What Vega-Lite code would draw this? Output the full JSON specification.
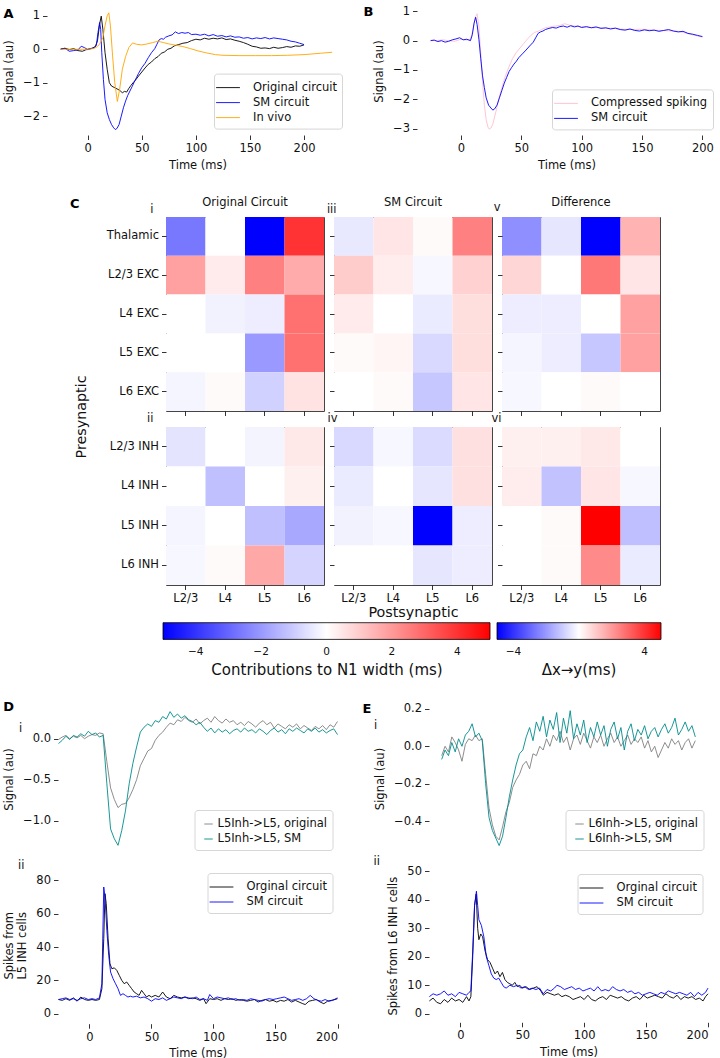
{
  "$schema": "https://vega.github.io/schema/vega-lite/v6.json",
  "padding": {"left": 2, "top": 1, "right": 0, "bottom": 0},
  "config": {
    "font": "DejaVu Sans",
    "view": {"stroke": null},
    "axis": {"domain": false, "grid": false, "tickColor": "#000", "tickSize": 4.5, "tickWidth": 0.8, "labelFontSize": 11.5, "labelColor": "#111", "labelPadding": 3, "titleFontSize": 11.5, "titleFontWeight": "normal", "titleColor": "#111", "labelFont": "DejaVu Sans", "titleFont": "DejaVu Sans"},
    "legend": {"labelFont": "DejaVu Sans", "labelFontSize": 11.5, "labelColor": "#111", "symbolType": "M-1.4,0L1.4,0", "symbolSize": 289, "symbolStrokeWidth": 1.2, "labelOffset": 16, "rowPadding": 0, "padding": 5, "strokeColor": "#d6d6d6", "fillColor": "#ffffff", "cornerRadius": 3, "titleFont": "DejaVu Sans"},
    "title": {"fontSize": 11.5, "fontWeight": "normal", "color": "#111", "font": "DejaVu Sans"},
    "line": {"strokeWidth": 0.9}
  },
  "datasets": {
    "a": [
      {"t":-25,"v":0.01,"s":"o"},{"t":-21,"v":0.03,"s":"o"},{"t":-17,"v":-0.01,"s":"o"},{"t":-13,"v":0.02,"s":"o"},{"t":-9,"v":-0.04,"s":"o"},{"t":-5,"v":-0.06,"s":"o"},{"t":-2,"v":-0.02,"s":"o"},{"t":1,"v":0.01,"s":"o"},{"t":4,"v":0.03,"s":"o"},{"t":7,"v":0.08,"s":"o"},{"t":9,"v":0.25,"s":"o"},{"t":11,"v":0.75,"s":"o"},{"t":12.5,"v":0.99,"s":"o"},{"t":14,"v":0.6,"s":"o"},{"t":16,"v":-0.1,"s":"o"},{"t":18,"v":-0.6,"s":"o"},{"t":20,"v":-1.0,"s":"o"},{"t":22,"v":-1.1,"s":"o"},{"t":25,"v":-1.15,"s":"o"},{"t":28,"v":-1.2,"s":"o"},{"t":30,"v":-1.24,"s":"o"},{"t":32,"v":-1.3,"s":"o"},{"t":34,"v":-1.26,"s":"o"},{"t":36,"v":-1.28,"s":"o"},{"t":38,"v":-1.17,"s":"o"},{"t":40,"v":-1.08,"s":"o"},{"t":42,"v":-1.0,"s":"o"},{"t":44,"v":-0.93,"s":"o"},{"t":47,"v":-0.8,"s":"o"},{"t":50,"v":-0.68,"s":"o"},{"t":53,"v":-0.56,"s":"o"},{"t":56,"v":-0.45,"s":"o"},{"t":59,"v":-0.38,"s":"o"},{"t":62,"v":-0.28,"s":"o"},{"t":65,"v":-0.22,"s":"o"},{"t":68,"v":-0.12,"s":"o"},{"t":71,"v":-0.08,"s":"o"},{"t":74,"v":0.0,"s":"o"},{"t":77,"v":0.03,"s":"o"},{"t":80,"v":0.1,"s":"o"},{"t":84,"v":0.14,"s":"o"},{"t":88,"v":0.18,"s":"o"},{"t":92,"v":0.2,"s":"o"},{"t":96,"v":0.26,"s":"o"},{"t":100,"v":0.3,"s":"o"},{"t":104,"v":0.28,"s":"o"},{"t":108,"v":0.33,"s":"o"},{"t":112,"v":0.3,"s":"o"},{"t":116,"v":0.33,"s":"o"},{"t":120,"v":0.31,"s":"o"},{"t":124,"v":0.34,"s":"o"},{"t":128,"v":0.29,"s":"o"},{"t":132,"v":0.31,"s":"o"},{"t":136,"v":0.27,"s":"o"},{"t":140,"v":0.24,"s":"o"},{"t":144,"v":0.2,"s":"o"},{"t":148,"v":0.15,"s":"o"},{"t":152,"v":0.09,"s":"o"},{"t":156,"v":0.07,"s":"o"},{"t":160,"v":0.03,"s":"o"},{"t":164,"v":0.04,"s":"o"},{"t":168,"v":0.02,"s":"o"},{"t":172,"v":0.06,"s":"o"},{"t":176,"v":0.03,"s":"o"},{"t":180,"v":0.05,"s":"o"},{"t":184,"v":0.08,"s":"o"},{"t":188,"v":0.06,"s":"o"},{"t":192,"v":0.1,"s":"o"},{"t":196,"v":0.09,"s":"o"},{"t":200,"v":0.13,"s":"o"},
      {"t":-25,"v":0.0,"s":"s"},{"t":-21,"v":0.03,"s":"s"},{"t":-17,"v":-0.06,"s":"s"},{"t":-13,"v":-0.04,"s":"s"},{"t":-9,"v":-0.02,"s":"s"},{"t":-6,"v":0.09,"s":"s"},{"t":-3,"v":0.05,"s":"s"},{"t":0,"v":-0.01,"s":"s"},{"t":3,"v":0.02,"s":"s"},{"t":6,"v":0.04,"s":"s"},{"t":8,"v":0.12,"s":"s"},{"t":9.5,"v":0.5,"s":"s"},{"t":11,"v":0.8,"s":"s"},{"t":12,"v":0.6,"s":"s"},{"t":13,"v":-0.1,"s":"s"},{"t":14.5,"v":-0.9,"s":"s"},{"t":16,"v":-1.5,"s":"s"},{"t":18,"v":-1.9,"s":"s"},{"t":20,"v":-2.1,"s":"s"},{"t":22,"v":-2.25,"s":"s"},{"t":24,"v":-2.35,"s":"s"},{"t":25.5,"v":-2.4,"s":"s"},{"t":27,"v":-2.37,"s":"s"},{"t":29,"v":-2.25,"s":"s"},{"t":31,"v":-2.0,"s":"s"},{"t":33,"v":-1.75,"s":"s"},{"t":35,"v":-1.55,"s":"s"},{"t":37,"v":-1.38,"s":"s"},{"t":39,"v":-1.25,"s":"s"},{"t":41,"v":-1.12,"s":"s"},{"t":43,"v":-0.98,"s":"s"},{"t":45,"v":-0.85,"s":"s"},{"t":47,"v":-0.72,"s":"s"},{"t":50,"v":-0.55,"s":"s"},{"t":53,"v":-0.42,"s":"s"},{"t":56,"v":-0.25,"s":"s"},{"t":59,"v":-0.1,"s":"s"},{"t":62,"v":0.02,"s":"s"},{"t":64,"v":0.15,"s":"s"},{"t":66,"v":0.28,"s":"s"},{"t":68,"v":0.32,"s":"s"},{"t":70,"v":0.3,"s":"s"},{"t":72,"v":0.36,"s":"s"},{"t":75,"v":0.4,"s":"s"},{"t":78,"v":0.43,"s":"s"},{"t":81,"v":0.52,"s":"s"},{"t":84,"v":0.47,"s":"s"},{"t":87,"v":0.5,"s":"s"},{"t":90,"v":0.48,"s":"s"},{"t":93,"v":0.5,"s":"s"},{"t":96,"v":0.44,"s":"s"},{"t":100,"v":0.45,"s":"s"},{"t":104,"v":0.42,"s":"s"},{"t":108,"v":0.45,"s":"s"},{"t":112,"v":0.4,"s":"s"},{"t":116,"v":0.44,"s":"s"},{"t":120,"v":0.39,"s":"s"},{"t":124,"v":0.41,"s":"s"},{"t":128,"v":0.37,"s":"s"},{"t":132,"v":0.4,"s":"s"},{"t":136,"v":0.36,"s":"s"},{"t":140,"v":0.37,"s":"s"},{"t":144,"v":0.33,"s":"s"},{"t":148,"v":0.35,"s":"s"},{"t":152,"v":0.31,"s":"s"},{"t":156,"v":0.34,"s":"s"},{"t":160,"v":0.32,"s":"s"},{"t":164,"v":0.35,"s":"s"},{"t":168,"v":0.31,"s":"s"},{"t":172,"v":0.34,"s":"s"},{"t":176,"v":0.32,"s":"s"},{"t":180,"v":0.3,"s":"s"},{"t":184,"v":0.28,"s":"s"},{"t":188,"v":0.24,"s":"s"},{"t":192,"v":0.22,"s":"s"},{"t":196,"v":0.18,"s":"s"},{"t":200,"v":0.14,"s":"s"},
      {"t":-25,"v":0.0,"s":"v"},{"t":-15,"v":0.0,"s":"v"},{"t":-5,"v":0.0,"s":"v"},{"t":0,"v":0.0,"s":"v"},{"t":5,"v":0.02,"s":"v"},{"t":8,"v":0.06,"s":"v"},{"t":11,"v":0.15,"s":"v"},{"t":14,"v":0.35,"s":"v"},{"t":16,"v":0.7,"s":"v"},{"t":18,"v":1.0,"s":"v"},{"t":19.5,"v":1.09,"s":"v"},{"t":21,"v":0.7,"s":"v"},{"t":23,"v":-0.2,"s":"v"},{"t":25,"v":-1.0,"s":"v"},{"t":27.4,"v":-1.56,"s":"v"},{"t":29.5,"v":-1.2,"s":"v"},{"t":32,"v":-0.6,"s":"v"},{"t":35,"v":-0.22,"s":"v"},{"t":38,"v":0.05,"s":"v"},{"t":41.5,"v":0.19,"s":"v"},{"t":45,"v":0.15,"s":"v"},{"t":50,"v":0.13,"s":"v"},{"t":55,"v":0.16,"s":"v"},{"t":60,"v":0.2,"s":"v"},{"t":65,"v":0.24,"s":"v"},{"t":70,"v":0.2,"s":"v"},{"t":75,"v":0.16,"s":"v"},{"t":80,"v":0.13,"s":"v"},{"t":88,"v":0.08,"s":"v"},{"t":95,"v":0.02,"s":"v"},{"t":102,"v":-0.05,"s":"v"},{"t":110,"v":-0.11,"s":"v"},{"t":118,"v":-0.16,"s":"v"},{"t":125,"v":-0.18,"s":"v"},{"t":140,"v":-0.19,"s":"v"},{"t":155,"v":-0.19,"s":"v"},{"t":170,"v":-0.19,"s":"v"},{"t":185,"v":-0.18,"s":"v"},{"t":200,"v":-0.16,"s":"v"},{"t":215,"v":-0.12,"s":"v"},{"t":226,"v":-0.09,"s":"v"}
    ],
    "b": [
      {"t":-25,"v":0.02,"s":"c"},{"t":-20,"v":0.0,"s":"c"},{"t":-15,"v":0.03,"s":"c"},{"t":-10,"v":0.0,"s":"c"},{"t":-5,"v":-0.02,"s":"c"},{"t":0,"v":0.05,"s":"c"},{"t":5,"v":0.02,"s":"c"},{"t":8,"v":0.05,"s":"c"},{"t":10,"v":0.35,"s":"c"},{"t":12,"v":0.8,"s":"c"},{"t":13.5,"v":0.92,"s":"c"},{"t":15,"v":0.5,"s":"c"},{"t":16.5,"v":-0.4,"s":"c"},{"t":18,"v":-1.4,"s":"c"},{"t":19.5,"v":-2.2,"s":"c"},{"t":21,"v":-2.7,"s":"c"},{"t":22.5,"v":-2.95,"s":"c"},{"t":23.5,"v":-3.02,"s":"c"},{"t":25,"v":-2.98,"s":"c"},{"t":26.5,"v":-2.85,"s":"c"},{"t":28,"v":-2.6,"s":"c"},{"t":29.5,"v":-2.35,"s":"c"},{"t":31,"v":-2.05,"s":"c"},{"t":33,"v":-1.75,"s":"c"},{"t":35,"v":-1.45,"s":"c"},{"t":37,"v":-1.2,"s":"c"},{"t":39,"v":-0.98,"s":"c"},{"t":41,"v":-0.78,"s":"c"},{"t":43,"v":-0.6,"s":"c"},{"t":46,"v":-0.4,"s":"c"},{"t":49,"v":-0.25,"s":"c"},{"t":52,"v":-0.1,"s":"c"},{"t":55,"v":0.05,"s":"c"},{"t":58,"v":0.18,"s":"c"},{"t":61,"v":0.28,"s":"c"},{"t":64,"v":0.32,"s":"c"},{"t":67,"v":0.38,"s":"c"},{"t":70,"v":0.44,"s":"c"},{"t":74,"v":0.47,"s":"c"},{"t":78,"v":0.5,"s":"c"},{"t":82,"v":0.52,"s":"c"},{"t":86,"v":0.58,"s":"c"},{"t":90,"v":0.53,"s":"c"},{"t":95,"v":0.5,"s":"c"},{"t":100,"v":0.48,"s":"c"},{"t":105,"v":0.46,"s":"c"},{"t":110,"v":0.44,"s":"c"},{"t":115,"v":0.45,"s":"c"},{"t":120,"v":0.41,"s":"c"},{"t":125,"v":0.43,"s":"c"},{"t":130,"v":0.4,"s":"c"},{"t":140,"v":0.38,"s":"c"},{"t":150,"v":0.39,"s":"c"},{"t":160,"v":0.36,"s":"c"},{"t":170,"v":0.34,"s":"c"},{"t":180,"v":0.32,"s":"c"},{"t":190,"v":0.22,"s":"c"},{"t":200,"v":0.12,"s":"c"},
      {"t":-25,"v":0.0,"s":"s"},{"t":-22,"v":0.02,"s":"s"},{"t":-19,"v":-0.03,"s":"s"},{"t":-16,"v":0.0,"s":"s"},{"t":-13,"v":-0.05,"s":"s"},{"t":-10,"v":-0.02,"s":"s"},{"t":-7,"v":0.03,"s":"s"},{"t":-4,"v":0.06,"s":"s"},{"t":-1,"v":0.1,"s":"s"},{"t":2,"v":0.03,"s":"s"},{"t":5,"v":0.05,"s":"s"},{"t":8,"v":0.0,"s":"s"},{"t":9.5,"v":0.2,"s":"s"},{"t":11,"v":0.6,"s":"s"},{"t":12.3,"v":0.8,"s":"s"},{"t":13.5,"v":0.55,"s":"s"},{"t":15,"v":0.05,"s":"s"},{"t":16.5,"v":-0.6,"s":"s"},{"t":18,"v":-1.2,"s":"s"},{"t":19.5,"v":-1.6,"s":"s"},{"t":21,"v":-1.95,"s":"s"},{"t":23,"v":-2.2,"s":"s"},{"t":25,"v":-2.3,"s":"s"},{"t":26.5,"v":-2.37,"s":"s"},{"t":28,"v":-2.33,"s":"s"},{"t":30,"v":-2.2,"s":"s"},{"t":32,"v":-1.95,"s":"s"},{"t":34,"v":-1.7,"s":"s"},{"t":36,"v":-1.45,"s":"s"},{"t":38,"v":-1.25,"s":"s"},{"t":40,"v":-1.05,"s":"s"},{"t":42,"v":-0.92,"s":"s"},{"t":44,"v":-0.8,"s":"s"},{"t":46,"v":-0.7,"s":"s"},{"t":48,"v":-0.58,"s":"s"},{"t":51,"v":-0.45,"s":"s"},{"t":54,"v":-0.32,"s":"s"},{"t":57,"v":-0.18,"s":"s"},{"t":60,"v":-0.05,"s":"s"},{"t":62,"v":0.1,"s":"s"},{"t":64,"v":0.25,"s":"s"},{"t":66,"v":0.3,"s":"s"},{"t":68,"v":0.33,"s":"s"},{"t":70,"v":0.38,"s":"s"},{"t":73,"v":0.42,"s":"s"},{"t":76,"v":0.45,"s":"s"},{"t":79,"v":0.43,"s":"s"},{"t":82,"v":0.48,"s":"s"},{"t":85,"v":0.5,"s":"s"},{"t":88,"v":0.46,"s":"s"},{"t":91,"v":0.51,"s":"s"},{"t":94,"v":0.47,"s":"s"},{"t":97,"v":0.5,"s":"s"},{"t":100,"v":0.45,"s":"s"},{"t":104,"v":0.48,"s":"s"},{"t":108,"v":0.44,"s":"s"},{"t":112,"v":0.47,"s":"s"},{"t":116,"v":0.42,"s":"s"},{"t":120,"v":0.44,"s":"s"},{"t":124,"v":0.4,"s":"s"},{"t":128,"v":0.43,"s":"s"},{"t":132,"v":0.38,"s":"s"},{"t":136,"v":0.36,"s":"s"},{"t":140,"v":0.4,"s":"s"},{"t":144,"v":0.35,"s":"s"},{"t":148,"v":0.33,"s":"s"},{"t":152,"v":0.37,"s":"s"},{"t":156,"v":0.34,"s":"s"},{"t":160,"v":0.36,"s":"s"},{"t":164,"v":0.32,"s":"s"},{"t":168,"v":0.35,"s":"s"},{"t":172,"v":0.38,"s":"s"},{"t":176,"v":0.33,"s":"s"},{"t":180,"v":0.3,"s":"s"},{"t":184,"v":0.32,"s":"s"},{"t":188,"v":0.25,"s":"s"},{"t":192,"v":0.22,"s":"s"},{"t":196,"v":0.18,"s":"s"},{"t":200,"v":0.14,"s":"s"}
    ],
    "hm": [
      {"p":"i","a":"Thalamic","b":"L2/3","v":-2.65},{"p":"i","a":"Thalamic","b":"L4","v":0},{"p":"i","a":"Thalamic","b":"L5","v":-5},{"p":"i","a":"Thalamic","b":"L6","v":4.0},
      {"p":"i","a":"L2/3 EXC","b":"L2/3","v":1.85},{"p":"i","a":"L2/3 EXC","b":"L4","v":0.4},{"p":"i","a":"L2/3 EXC","b":"L5","v":2.5},{"p":"i","a":"L2/3 EXC","b":"L6","v":1.65},
      {"p":"i","a":"L4 EXC","b":"L2/3","v":0},{"p":"i","a":"L4 EXC","b":"L4","v":-0.25},{"p":"i","a":"L4 EXC","b":"L5","v":-0.35},{"p":"i","a":"L4 EXC","b":"L6","v":2.8},
      {"p":"i","a":"L5 EXC","b":"L2/3","v":0},{"p":"i","a":"L5 EXC","b":"L4","v":0},{"p":"i","a":"L5 EXC","b":"L5","v":-2.0},{"p":"i","a":"L5 EXC","b":"L6","v":2.8},
      {"p":"i","a":"L6 EXC","b":"L2/3","v":-0.2},{"p":"i","a":"L6 EXC","b":"L4","v":0.1},{"p":"i","a":"L6 EXC","b":"L5","v":-0.9},{"p":"i","a":"L6 EXC","b":"L6","v":0.55},
      {"p":"ii","a":"L2/3 INH","b":"L2/3","v":-0.53},{"p":"ii","a":"L2/3 INH","b":"L4","v":0},{"p":"ii","a":"L2/3 INH","b":"L5","v":-0.22},{"p":"ii","a":"L2/3 INH","b":"L6","v":0.45},
      {"p":"ii","a":"L4 INH","b":"L2/3","v":0},{"p":"ii","a":"L4 INH","b":"L4","v":-1.24},{"p":"ii","a":"L4 INH","b":"L5","v":0},{"p":"ii","a":"L4 INH","b":"L6","v":0.3},
      {"p":"ii","a":"L5 INH","b":"L2/3","v":-0.2},{"p":"ii","a":"L5 INH","b":"L4","v":0},{"p":"ii","a":"L5 INH","b":"L5","v":-1.24},{"p":"ii","a":"L5 INH","b":"L6","v":-1.7},
      {"p":"ii","a":"L6 INH","b":"L2/3","v":-0.15},{"p":"ii","a":"L6 INH","b":"L4","v":0.1},{"p":"ii","a":"L6 INH","b":"L5","v":1.7},{"p":"ii","a":"L6 INH","b":"L6","v":-0.84},
      {"p":"iii","a":"Thalamic","b":"L2/3","v":-0.45},{"p":"iii","a":"Thalamic","b":"L4","v":0.5},{"p":"iii","a":"Thalamic","b":"L5","v":0.1},{"p":"iii","a":"Thalamic","b":"L6","v":2.5},
      {"p":"iii","a":"L2/3 EXC","b":"L2/3","v":1.0},{"p":"iii","a":"L2/3 EXC","b":"L4","v":0.35},{"p":"iii","a":"L2/3 EXC","b":"L5","v":-0.15},{"p":"iii","a":"L2/3 EXC","b":"L6","v":0.9},
      {"p":"iii","a":"L4 EXC","b":"L2/3","v":0.4},{"p":"iii","a":"L4 EXC","b":"L4","v":0},{"p":"iii","a":"L4 EXC","b":"L5","v":-0.4},{"p":"iii","a":"L4 EXC","b":"L6","v":0.65},
      {"p":"iii","a":"L5 EXC","b":"L2/3","v":0.1},{"p":"iii","a":"L5 EXC","b":"L4","v":0.2},{"p":"iii","a":"L5 EXC","b":"L5","v":-0.75},{"p":"iii","a":"L5 EXC","b":"L6","v":0.65},
      {"p":"iii","a":"L6 EXC","b":"L2/3","v":0},{"p":"iii","a":"L6 EXC","b":"L4","v":0.1},{"p":"iii","a":"L6 EXC","b":"L5","v":-1.1},{"p":"iii","a":"L6 EXC","b":"L6","v":0.5},
      {"p":"iv","a":"L2/3 INH","b":"L2/3","v":-0.75},{"p":"iv","a":"L2/3 INH","b":"L4","v":-0.15},{"p":"iv","a":"L2/3 INH","b":"L5","v":-0.7},{"p":"iv","a":"L2/3 INH","b":"L6","v":0.6},
      {"p":"iv","a":"L4 INH","b":"L2/3","v":-0.4},{"p":"iv","a":"L4 INH","b":"L4","v":0},{"p":"iv","a":"L4 INH","b":"L5","v":-0.5},{"p":"iv","a":"L4 INH","b":"L6","v":0.6},
      {"p":"iv","a":"L5 INH","b":"L2/3","v":-0.25},{"p":"iv","a":"L5 INH","b":"L4","v":-0.15},{"p":"iv","a":"L5 INH","b":"L5","v":-5},{"p":"iv","a":"L5 INH","b":"L6","v":-0.35},
      {"p":"iv","a":"L6 INH","b":"L2/3","v":0},{"p":"iv","a":"L6 INH","b":"L4","v":0},{"p":"iv","a":"L6 INH","b":"L5","v":-0.5},{"p":"iv","a":"L6 INH","b":"L6","v":-0.35},
      {"p":"v","a":"Thalamic","b":"L2/3","v":-2.2},{"p":"v","a":"Thalamic","b":"L4","v":-0.5},{"p":"v","a":"Thalamic","b":"L5","v":-5},{"p":"v","a":"Thalamic","b":"L6","v":1.5},
      {"p":"v","a":"L2/3 EXC","b":"L2/3","v":0.8},{"p":"v","a":"L2/3 EXC","b":"L4","v":0},{"p":"v","a":"L2/3 EXC","b":"L5","v":2.65},{"p":"v","a":"L2/3 EXC","b":"L6","v":0.5},
      {"p":"v","a":"L4 EXC","b":"L2/3","v":-0.35},{"p":"v","a":"L4 EXC","b":"L4","v":-0.35},{"p":"v","a":"L4 EXC","b":"L5","v":0},{"p":"v","a":"L4 EXC","b":"L6","v":1.85},
      {"p":"v","a":"L5 EXC","b":"L2/3","v":-0.2},{"p":"v","a":"L5 EXC","b":"L4","v":-0.35},{"p":"v","a":"L5 EXC","b":"L5","v":-1.1},{"p":"v","a":"L5 EXC","b":"L6","v":1.85},
      {"p":"v","a":"L6 EXC","b":"L2/3","v":-0.15},{"p":"v","a":"L6 EXC","b":"L4","v":0},{"p":"v","a":"L6 EXC","b":"L5","v":0.1},{"p":"v","a":"L6 EXC","b":"L6","v":0},
      {"p":"vi","a":"L2/3 INH","b":"L2/3","v":0.3},{"p":"vi","a":"L2/3 INH","b":"L4","v":0.3},{"p":"vi","a":"L2/3 INH","b":"L5","v":0.45},{"p":"vi","a":"L2/3 INH","b":"L6","v":0},
      {"p":"vi","a":"L4 INH","b":"L2/3","v":0.35},{"p":"vi","a":"L4 INH","b":"L4","v":-1.2},{"p":"vi","a":"L4 INH","b":"L5","v":0.5},{"p":"vi","a":"L4 INH","b":"L6","v":-0.15},
      {"p":"vi","a":"L5 INH","b":"L2/3","v":0},{"p":"vi","a":"L5 INH","b":"L4","v":0.1},{"p":"vi","a":"L5 INH","b":"L5","v":5},{"p":"vi","a":"L5 INH","b":"L6","v":-1.25},
      {"p":"vi","a":"L6 INH","b":"L2/3","v":0},{"p":"vi","a":"L6 INH","b":"L4","v":0.1},{"p":"vi","a":"L6 INH","b":"L5","v":2.3},{"p":"vi","a":"L6 INH","b":"L6","v":-0.4}
    ],
    "di": [
      {"t":-25,"v":-0.01,"s":"o"},{"t":-22,"v":0.02,"s":"o"},{"t":-19,"v":0.04,"s":"o"},{"t":-16,"v":0.0,"s":"o"},{"t":-13,"v":0.03,"s":"o"},{"t":-10,"v":0.01,"s":"o"},{"t":-7,"v":0.04,"s":"o"},{"t":-4,"v":0.0,"s":"o"},{"t":-1,"v":0.03,"s":"o"},{"t":2,"v":0.05,"s":"o"},{"t":5,"v":0.04,"s":"o"},{"t":8,"v":0.07,"s":"o"},{"t":11,"v":0.06,"s":"o"},{"t":14,"v":-0.28,"s":"o"},{"t":17,"v":-0.6,"s":"o"},{"t":20,"v":-0.74,"s":"o"},{"t":23,"v":-0.84,"s":"o"},{"t":26,"v":-0.8,"s":"o"},{"t":29,"v":-0.79,"s":"o"},{"t":32,"v":-0.72,"s":"o"},{"t":35,"v":-0.62,"s":"o"},{"t":38,"v":-0.5,"s":"o"},{"t":41,"v":-0.33,"s":"o"},{"t":44,"v":-0.24,"s":"o"},{"t":47,"v":-0.15,"s":"o"},{"t":50,"v":-0.12,"s":"o"},{"t":53,"v":-0.02,"s":"o"},{"t":56,"v":0.04,"s":"o"},{"t":59,"v":0.08,"s":"o"},{"t":62,"v":0.14,"s":"o"},{"t":65,"v":0.19,"s":"o"},{"t":68,"v":0.17,"s":"o"},{"t":71,"v":0.23,"s":"o"},{"t":74,"v":0.21,"s":"o"},{"t":77,"v":0.26,"s":"o"},{"t":80,"v":0.22,"s":"o"},{"t":83,"v":0.2,"s":"o"},{"t":86,"v":0.24,"s":"o"},{"t":89,"v":0.18,"s":"o"},{"t":92,"v":0.22,"s":"o"},{"t":95,"v":0.25,"s":"o"},{"t":98,"v":0.2,"s":"o"},{"t":101,"v":0.27,"s":"o"},{"t":104,"v":0.22,"s":"o"},{"t":107,"v":0.19,"s":"o"},{"t":110,"v":0.24,"s":"o"},{"t":113,"v":0.2,"s":"o"},{"t":116,"v":0.22,"s":"o"},{"t":119,"v":0.17,"s":"o"},{"t":122,"v":0.2,"s":"o"},{"t":125,"v":0.16,"s":"o"},{"t":128,"v":0.21,"s":"o"},{"t":131,"v":0.18,"s":"o"},{"t":134,"v":0.14,"s":"o"},{"t":137,"v":0.19,"s":"o"},{"t":140,"v":0.22,"s":"o"},{"t":143,"v":0.17,"s":"o"},{"t":146,"v":0.2,"s":"o"},{"t":149,"v":0.13,"s":"o"},{"t":152,"v":0.18,"s":"o"},{"t":155,"v":0.15,"s":"o"},{"t":158,"v":0.12,"s":"o"},{"t":161,"v":0.17,"s":"o"},{"t":164,"v":0.14,"s":"o"},{"t":167,"v":0.18,"s":"o"},{"t":170,"v":0.12,"s":"o"},{"t":173,"v":0.16,"s":"o"},{"t":176,"v":0.13,"s":"o"},{"t":179,"v":0.1,"s":"o"},{"t":182,"v":0.15,"s":"o"},{"t":185,"v":0.12,"s":"o"},{"t":188,"v":0.16,"s":"o"},{"t":191,"v":0.11,"s":"o"},{"t":194,"v":0.17,"s":"o"},{"t":197,"v":0.14,"s":"o"},{"t":200,"v":0.21,"s":"o"},
      {"t":-25,"v":-0.06,"s":"s"},{"t":-22,"v":-0.02,"s":"s"},{"t":-19,"v":0.03,"s":"s"},{"t":-16,"v":-0.01,"s":"s"},{"t":-13,"v":0.04,"s":"s"},{"t":-10,"v":0.02,"s":"s"},{"t":-7,"v":0.06,"s":"s"},{"t":-4,"v":0.03,"s":"s"},{"t":-1,"v":0.09,"s":"s"},{"t":2,"v":0.05,"s":"s"},{"t":5,"v":0.07,"s":"s"},{"t":8,"v":0.02,"s":"s"},{"t":11,"v":0.04,"s":"s"},{"t":14,"v":-0.55,"s":"s"},{"t":17,"v":-1.1,"s":"s"},{"t":20,"v":-1.22,"s":"s"},{"t":23,"v":-1.3,"s":"s"},{"t":26,"v":-1.12,"s":"s"},{"t":29,"v":-0.88,"s":"s"},{"t":32,"v":-0.55,"s":"s"},{"t":35,"v":-0.3,"s":"s"},{"t":38,"v":-0.1,"s":"s"},{"t":41,"v":0.08,"s":"s"},{"t":44,"v":0.14,"s":"s"},{"t":47,"v":0.18,"s":"s"},{"t":50,"v":0.15,"s":"s"},{"t":53,"v":0.22,"s":"s"},{"t":56,"v":0.2,"s":"s"},{"t":59,"v":0.27,"s":"s"},{"t":62,"v":0.24,"s":"s"},{"t":65,"v":0.33,"s":"s"},{"t":68,"v":0.26,"s":"s"},{"t":71,"v":0.3,"s":"s"},{"t":74,"v":0.25,"s":"s"},{"t":77,"v":0.28,"s":"s"},{"t":80,"v":0.23,"s":"s"},{"t":83,"v":0.21,"s":"s"},{"t":86,"v":0.17,"s":"s"},{"t":89,"v":0.2,"s":"s"},{"t":92,"v":0.14,"s":"s"},{"t":95,"v":0.09,"s":"s"},{"t":98,"v":0.13,"s":"s"},{"t":101,"v":0.07,"s":"s"},{"t":104,"v":0.12,"s":"s"},{"t":107,"v":0.08,"s":"s"},{"t":110,"v":0.11,"s":"s"},{"t":113,"v":0.06,"s":"s"},{"t":116,"v":0.1,"s":"s"},{"t":119,"v":0.12,"s":"s"},{"t":122,"v":0.08,"s":"s"},{"t":125,"v":0.13,"s":"s"},{"t":128,"v":0.09,"s":"s"},{"t":131,"v":0.11,"s":"s"},{"t":134,"v":0.07,"s":"s"},{"t":137,"v":0.12,"s":"s"},{"t":140,"v":0.09,"s":"s"},{"t":143,"v":0.05,"s":"s"},{"t":146,"v":0.1,"s":"s"},{"t":149,"v":0.13,"s":"s"},{"t":152,"v":0.08,"s":"s"},{"t":155,"v":0.11,"s":"s"},{"t":158,"v":0.06,"s":"s"},{"t":161,"v":0.12,"s":"s"},{"t":164,"v":0.09,"s":"s"},{"t":167,"v":0.13,"s":"s"},{"t":170,"v":0.1,"s":"s"},{"t":173,"v":0.07,"s":"s"},{"t":176,"v":0.12,"s":"s"},{"t":179,"v":0.09,"s":"s"},{"t":182,"v":0.13,"s":"s"},{"t":185,"v":0.08,"s":"s"},{"t":188,"v":0.11,"s":"s"},{"t":191,"v":0.07,"s":"s"},{"t":194,"v":0.1,"s":"s"},{"t":197,"v":0.12,"s":"s"},{"t":200,"v":0.05,"s":"s"}
    ],
    "dii": [
      {"t":-25,"v":8.5,"s":"o"},{"t":-22,"v":8,"s":"o"},{"t":-19,"v":9,"s":"o"},{"t":-16,"v":8,"s":"o"},{"t":-13,"v":9.5,"s":"o"},{"t":-10,"v":7.5,"s":"o"},{"t":-7,"v":10,"s":"o"},{"t":-4,"v":8.5,"s":"o"},{"t":-1,"v":8,"s":"o"},{"t":2,"v":8.5,"s":"o"},{"t":5,"v":8,"s":"o"},{"t":8,"v":8.5,"s":"o"},{"t":10,"v":15,"s":"o"},{"t":11.5,"v":45,"s":"o"},{"t":12.5,"v":72,"s":"o"},{"t":13.5,"v":66,"s":"o"},{"t":15,"v":45,"s":"o"},{"t":16.5,"v":30,"s":"o"},{"t":18,"v":27,"s":"o"},{"t":20,"v":27.5,"s":"o"},{"t":22,"v":26,"s":"o"},{"t":24,"v":23,"s":"o"},{"t":26,"v":20,"s":"o"},{"t":28,"v":18,"s":"o"},{"t":30,"v":19,"s":"o"},{"t":32,"v":17,"s":"o"},{"t":34,"v":15,"s":"o"},{"t":36,"v":13,"s":"o"},{"t":38,"v":12,"s":"o"},{"t":40,"v":11,"s":"o"},{"t":42,"v":14,"s":"o"},{"t":44,"v":12,"s":"o"},{"t":46,"v":10,"s":"o"},{"t":48,"v":11,"s":"o"},{"t":50,"v":10,"s":"o"},{"t":53,"v":11,"s":"o"},{"t":56,"v":10,"s":"o"},{"t":59,"v":13,"s":"o"},{"t":62,"v":10,"s":"o"},{"t":65,"v":9,"s":"o"},{"t":68,"v":11,"s":"o"},{"t":71,"v":10,"s":"o"},{"t":74,"v":9.5,"s":"o"},{"t":77,"v":10,"s":"o"},{"t":80,"v":9,"s":"o"},{"t":83,"v":9.5,"s":"o"},{"t":86,"v":9,"s":"o"},{"t":89,"v":8,"s":"o"},{"t":92,"v":9,"s":"o"},{"t":94,"v":6,"s":"o"},{"t":97,"v":9,"s":"o"},{"t":100,"v":8.5,"s":"o"},{"t":103,"v":9,"s":"o"},{"t":106,"v":8,"s":"o"},{"t":109,"v":9,"s":"o"},{"t":112,"v":8.5,"s":"o"},{"t":115,"v":9,"s":"o"},{"t":118,"v":8,"s":"o"},{"t":121,"v":8.5,"s":"o"},{"t":124,"v":8,"s":"o"},{"t":127,"v":7.5,"s":"o"},{"t":130,"v":8,"s":"o"},{"t":133,"v":8.5,"s":"o"},{"t":136,"v":7,"s":"o"},{"t":139,"v":8,"s":"o"},{"t":142,"v":8.5,"s":"o"},{"t":145,"v":7.5,"s":"o"},{"t":148,"v":8,"s":"o"},{"t":151,"v":7,"s":"o"},{"t":154,"v":8,"s":"o"},{"t":157,"v":7.5,"s":"o"},{"t":160,"v":8.5,"s":"o"},{"t":163,"v":7,"s":"o"},{"t":166,"v":8,"s":"o"},{"t":169,"v":7,"s":"o"},{"t":172,"v":6,"s":"o"},{"t":174,"v":5.5,"s":"o"},{"t":177,"v":7.5,"s":"o"},{"t":180,"v":8,"s":"o"},{"t":183,"v":8.5,"s":"o"},{"t":186,"v":7,"s":"o"},{"t":189,"v":6,"s":"o"},{"t":192,"v":7.5,"s":"o"},{"t":195,"v":8,"s":"o"},{"t":198,"v":8.5,"s":"o"},{"t":200,"v":9,"s":"o"},
      {"t":-25,"v":8.5,"s":"s"},{"t":-22,"v":9,"s":"s"},{"t":-19,"v":9.5,"s":"s"},{"t":-16,"v":8.5,"s":"s"},{"t":-13,"v":9,"s":"s"},{"t":-10,"v":8,"s":"s"},{"t":-7,"v":9,"s":"s"},{"t":-4,"v":9.5,"s":"s"},{"t":-1,"v":8.5,"s":"s"},{"t":2,"v":9,"s":"s"},{"t":5,"v":8.5,"s":"s"},{"t":8,"v":9.5,"s":"s"},{"t":10,"v":18,"s":"s"},{"t":11.5,"v":76,"s":"s"},{"t":12.5,"v":70,"s":"s"},{"t":14,"v":50,"s":"s"},{"t":15.5,"v":35,"s":"s"},{"t":17,"v":25,"s":"s"},{"t":19,"v":21,"s":"s"},{"t":21,"v":18,"s":"s"},{"t":23,"v":15,"s":"s"},{"t":25,"v":11,"s":"s"},{"t":27,"v":12,"s":"s"},{"t":29,"v":11,"s":"s"},{"t":31,"v":10,"s":"s"},{"t":33,"v":10.5,"s":"s"},{"t":35,"v":10,"s":"s"},{"t":38,"v":10.5,"s":"s"},{"t":41,"v":9.5,"s":"s"},{"t":44,"v":10,"s":"s"},{"t":47,"v":9,"s":"s"},{"t":50,"v":7.5,"s":"s"},{"t":53,"v":9,"s":"s"},{"t":56,"v":8.5,"s":"s"},{"t":59,"v":9.5,"s":"s"},{"t":62,"v":8,"s":"s"},{"t":65,"v":9,"s":"s"},{"t":68,"v":10,"s":"s"},{"t":71,"v":9.5,"s":"s"},{"t":74,"v":9,"s":"s"},{"t":77,"v":10,"s":"s"},{"t":80,"v":9.5,"s":"s"},{"t":83,"v":9,"s":"s"},{"t":86,"v":10,"s":"s"},{"t":89,"v":8.5,"s":"s"},{"t":92,"v":9,"s":"s"},{"t":95,"v":8,"s":"s"},{"t":97,"v":11.5,"s":"s"},{"t":100,"v":9,"s":"s"},{"t":103,"v":10,"s":"s"},{"t":106,"v":9.5,"s":"s"},{"t":109,"v":9,"s":"s"},{"t":112,"v":9.5,"s":"s"},{"t":115,"v":8.5,"s":"s"},{"t":118,"v":9,"s":"s"},{"t":121,"v":8,"s":"s"},{"t":124,"v":8.5,"s":"s"},{"t":127,"v":8,"s":"s"},{"t":130,"v":9,"s":"s"},{"t":133,"v":8.5,"s":"s"},{"t":136,"v":8,"s":"s"},{"t":139,"v":7.5,"s":"s"},{"t":142,"v":8.5,"s":"s"},{"t":145,"v":9,"s":"s"},{"t":148,"v":8.5,"s":"s"},{"t":151,"v":9,"s":"s"},{"t":154,"v":9.5,"s":"s"},{"t":157,"v":10,"s":"s"},{"t":160,"v":9,"s":"s"},{"t":163,"v":8,"s":"s"},{"t":166,"v":8.5,"s":"s"},{"t":169,"v":9,"s":"s"},{"t":172,"v":8,"s":"s"},{"t":175,"v":9,"s":"s"},{"t":178,"v":11,"s":"s"},{"t":181,"v":9,"s":"s"},{"t":184,"v":8,"s":"s"},{"t":187,"v":7.5,"s":"s"},{"t":190,"v":8.5,"s":"s"},{"t":193,"v":7.5,"s":"s"},{"t":196,"v":8,"s":"s"},{"t":200,"v":9.5,"s":"s"}
    ],
    "ei": [
      {"t":-25,"v":-0.05,"s":"o"},{"t":-22,"v":0.0,"s":"o"},{"t":-19,"v":-0.03,"s":"o"},{"t":-16,"v":0.05,"s":"o"},{"t":-13,"v":0.02,"s":"o"},{"t":-10,"v":-0.02,"s":"o"},{"t":-7,"v":-0.08,"s":"o"},{"t":-4,"v":0.01,"s":"o"},{"t":-1,"v":0.04,"s":"o"},{"t":2,"v":0.03,"s":"o"},{"t":5,"v":0.06,"s":"o"},{"t":8,"v":0.03,"s":"o"},{"t":11,"v":0.04,"s":"o"},{"t":14,"v":-0.15,"s":"o"},{"t":17,"v":-0.33,"s":"o"},{"t":20,"v":-0.42,"s":"o"},{"t":23,"v":-0.48,"s":"o"},{"t":26,"v":-0.5,"s":"o"},{"t":29,"v":-0.43,"s":"o"},{"t":32,"v":-0.35,"s":"o"},{"t":35,"v":-0.3,"s":"o"},{"t":38,"v":-0.22,"s":"o"},{"t":41,"v":-0.18,"s":"o"},{"t":44,"v":-0.15,"s":"o"},{"t":47,"v":-0.1,"s":"o"},{"t":50,"v":-0.08,"s":"o"},{"t":53,"v":-0.12,"s":"o"},{"t":56,"v":-0.04,"s":"o"},{"t":59,"v":-0.05,"s":"o"},{"t":62,"v":0.0,"s":"o"},{"t":65,"v":-0.02,"s":"o"},{"t":68,"v":0.04,"s":"o"},{"t":71,"v":0.0,"s":"o"},{"t":74,"v":0.06,"s":"o"},{"t":77,"v":0.03,"s":"o"},{"t":80,"v":0.08,"s":"o"},{"t":83,"v":0.02,"s":"o"},{"t":86,"v":0.05,"s":"o"},{"t":89,"v":-0.02,"s":"o"},{"t":92,"v":0.04,"s":"o"},{"t":95,"v":0.06,"s":"o"},{"t":98,"v":0.01,"s":"o"},{"t":101,"v":0.07,"s":"o"},{"t":104,"v":0.03,"s":"o"},{"t":107,"v":-0.01,"s":"o"},{"t":110,"v":0.05,"s":"o"},{"t":113,"v":0.02,"s":"o"},{"t":116,"v":0.06,"s":"o"},{"t":119,"v":0.0,"s":"o"},{"t":122,"v":0.04,"s":"o"},{"t":125,"v":0.07,"s":"o"},{"t":128,"v":0.02,"s":"o"},{"t":131,"v":0.05,"s":"o"},{"t":134,"v":0.0,"s":"o"},{"t":137,"v":0.03,"s":"o"},{"t":140,"v":0.06,"s":"o"},{"t":143,"v":0.01,"s":"o"},{"t":146,"v":0.04,"s":"o"},{"t":149,"v":0.02,"s":"o"},{"t":152,"v":0.05,"s":"o"},{"t":155,"v":-0.01,"s":"o"},{"t":158,"v":0.03,"s":"o"},{"t":161,"v":-0.03,"s":"o"},{"t":164,"v":0.0,"s":"o"},{"t":167,"v":-0.06,"s":"o"},{"t":170,"v":-0.02,"s":"o"},{"t":173,"v":0.02,"s":"o"},{"t":176,"v":-0.01,"s":"o"},{"t":179,"v":0.04,"s":"o"},{"t":182,"v":0.01,"s":"o"},{"t":185,"v":0.03,"s":"o"},{"t":188,"v":-0.02,"s":"o"},{"t":191,"v":0.02,"s":"o"},{"t":194,"v":0.04,"s":"o"},{"t":197,"v":-0.01,"s":"o"},{"t":200,"v":0.03,"s":"o"},
      {"t":-25,"v":-0.07,"s":"s"},{"t":-22,"v":-0.02,"s":"s"},{"t":-19,"v":-0.05,"s":"s"},{"t":-16,"v":0.02,"s":"s"},{"t":-13,"v":-0.03,"s":"s"},{"t":-10,"v":0.04,"s":"s"},{"t":-7,"v":0.0,"s":"s"},{"t":-4,"v":0.06,"s":"s"},{"t":-1,"v":0.08,"s":"s"},{"t":2,"v":0.12,"s":"s"},{"t":5,"v":0.05,"s":"s"},{"t":8,"v":0.07,"s":"s"},{"t":11,"v":0.03,"s":"s"},{"t":14,"v":-0.2,"s":"s"},{"t":17,"v":-0.38,"s":"s"},{"t":20,"v":-0.45,"s":"s"},{"t":23,"v":-0.49,"s":"s"},{"t":26,"v":-0.53,"s":"s"},{"t":29,"v":-0.48,"s":"s"},{"t":32,"v":-0.38,"s":"s"},{"t":35,"v":-0.27,"s":"s"},{"t":38,"v":-0.18,"s":"s"},{"t":41,"v":-0.1,"s":"s"},{"t":44,"v":-0.04,"s":"s"},{"t":47,"v":-0.02,"s":"s"},{"t":50,"v":0.05,"s":"s"},{"t":53,"v":0.1,"s":"s"},{"t":56,"v":0.03,"s":"s"},{"t":59,"v":0.13,"s":"s"},{"t":62,"v":0.08,"s":"s"},{"t":65,"v":0.16,"s":"s"},{"t":68,"v":0.05,"s":"s"},{"t":71,"v":0.14,"s":"s"},{"t":74,"v":0.09,"s":"s"},{"t":77,"v":0.18,"s":"s"},{"t":80,"v":0.02,"s":"s"},{"t":83,"v":0.15,"s":"s"},{"t":86,"v":0.07,"s":"s"},{"t":89,"v":0.19,"s":"s"},{"t":92,"v":0.04,"s":"s"},{"t":95,"v":0.12,"s":"s"},{"t":98,"v":0.06,"s":"s"},{"t":101,"v":0.14,"s":"s"},{"t":104,"v":0.02,"s":"s"},{"t":107,"v":0.1,"s":"s"},{"t":110,"v":0.05,"s":"s"},{"t":113,"v":0.13,"s":"s"},{"t":116,"v":0.06,"s":"s"},{"t":119,"v":0.11,"s":"s"},{"t":122,"v":0.0,"s":"s"},{"t":125,"v":0.09,"s":"s"},{"t":128,"v":0.13,"s":"s"},{"t":131,"v":0.04,"s":"s"},{"t":134,"v":0.1,"s":"s"},{"t":137,"v":-0.02,"s":"s"},{"t":140,"v":0.08,"s":"s"},{"t":143,"v":0.12,"s":"s"},{"t":146,"v":0.03,"s":"s"},{"t":149,"v":0.09,"s":"s"},{"t":152,"v":0.06,"s":"s"},{"t":155,"v":0.11,"s":"s"},{"t":158,"v":0.04,"s":"s"},{"t":161,"v":0.08,"s":"s"},{"t":164,"v":0.1,"s":"s"},{"t":167,"v":0.05,"s":"s"},{"t":170,"v":0.09,"s":"s"},{"t":173,"v":0.12,"s":"s"},{"t":176,"v":0.07,"s":"s"},{"t":179,"v":0.1,"s":"s"},{"t":182,"v":0.15,"s":"s"},{"t":185,"v":0.06,"s":"s"},{"t":188,"v":0.09,"s":"s"},{"t":191,"v":0.13,"s":"s"},{"t":194,"v":0.08,"s":"s"},{"t":197,"v":0.11,"s":"s"},{"t":200,"v":0.05,"s":"s"}
    ],
    "eii": [
      {"t":-25,"v":4.5,"s":"o"},{"t":-22,"v":5.5,"s":"o"},{"t":-19,"v":4,"s":"o"},{"t":-16,"v":3.5,"s":"o"},{"t":-13,"v":5,"s":"o"},{"t":-10,"v":4,"s":"o"},{"t":-7,"v":5.5,"s":"o"},{"t":-4,"v":4.5,"s":"o"},{"t":-1,"v":5,"s":"o"},{"t":2,"v":4,"s":"o"},{"t":5,"v":6,"s":"o"},{"t":7,"v":4.5,"s":"o"},{"t":8.5,"v":6,"s":"o"},{"t":10,"v":20,"s":"o"},{"t":11.5,"v":38,"s":"o"},{"t":12.8,"v":42,"s":"o"},{"t":14,"v":30,"s":"o"},{"t":15,"v":26,"s":"o"},{"t":16.5,"v":28,"s":"o"},{"t":18,"v":27,"s":"o"},{"t":20,"v":22,"s":"o"},{"t":22,"v":19,"s":"o"},{"t":24,"v":18,"s":"o"},{"t":26,"v":16,"s":"o"},{"t":28,"v":14,"s":"o"},{"t":30,"v":15,"s":"o"},{"t":32,"v":13,"s":"o"},{"t":34,"v":14.5,"s":"o"},{"t":36,"v":12,"s":"o"},{"t":38,"v":11,"s":"o"},{"t":40,"v":10.5,"s":"o"},{"t":42,"v":10,"s":"o"},{"t":44,"v":11,"s":"o"},{"t":46,"v":9.5,"s":"o"},{"t":48,"v":10,"s":"o"},{"t":50,"v":9,"s":"o"},{"t":53,"v":9.5,"s":"o"},{"t":56,"v":8.5,"s":"o"},{"t":59,"v":9,"s":"o"},{"t":62,"v":9.5,"s":"o"},{"t":65,"v":8,"s":"o"},{"t":67,"v":6.5,"s":"o"},{"t":70,"v":7.5,"s":"o"},{"t":73,"v":7,"s":"o"},{"t":76,"v":6.5,"s":"o"},{"t":79,"v":7,"s":"o"},{"t":82,"v":6,"s":"o"},{"t":85,"v":6.5,"s":"o"},{"t":88,"v":6,"s":"o"},{"t":91,"v":5,"s":"o"},{"t":94,"v":5.5,"s":"o"},{"t":97,"v":6,"s":"o"},{"t":100,"v":5,"s":"o"},{"t":103,"v":6.5,"s":"o"},{"t":106,"v":5,"s":"o"},{"t":109,"v":4.5,"s":"o"},{"t":112,"v":5.5,"s":"o"},{"t":115,"v":6,"s":"o"},{"t":118,"v":5,"s":"o"},{"t":121,"v":6.5,"s":"o"},{"t":124,"v":6,"s":"o"},{"t":127,"v":5.5,"s":"o"},{"t":130,"v":6,"s":"o"},{"t":133,"v":5,"s":"o"},{"t":136,"v":4.5,"s":"o"},{"t":139,"v":5.5,"s":"o"},{"t":142,"v":6,"s":"o"},{"t":145,"v":5,"s":"o"},{"t":148,"v":6.5,"s":"o"},{"t":151,"v":5.5,"s":"o"},{"t":154,"v":6,"s":"o"},{"t":157,"v":6.5,"s":"o"},{"t":160,"v":6,"s":"o"},{"t":163,"v":5.5,"s":"o"},{"t":166,"v":7,"s":"o"},{"t":169,"v":6,"s":"o"},{"t":172,"v":5.5,"s":"o"},{"t":175,"v":6.5,"s":"o"},{"t":178,"v":5,"s":"o"},{"t":181,"v":6,"s":"o"},{"t":184,"v":5.5,"s":"o"},{"t":187,"v":6,"s":"o"},{"t":190,"v":5,"s":"o"},{"t":193,"v":5.5,"s":"o"},{"t":196,"v":4.5,"s":"o"},{"t":198,"v":6,"s":"o"},{"t":200,"v":7,"s":"o"},
      {"t":-25,"v":6,"s":"s"},{"t":-22,"v":7,"s":"s"},{"t":-19,"v":6.5,"s":"s"},{"t":-16,"v":7,"s":"s"},{"t":-13,"v":8,"s":"s"},{"t":-10,"v":6.5,"s":"s"},{"t":-7,"v":7,"s":"s"},{"t":-4,"v":6,"s":"s"},{"t":-1,"v":7.5,"s":"s"},{"t":2,"v":7,"s":"s"},{"t":5,"v":6.5,"s":"s"},{"t":7,"v":7.5,"s":"s"},{"t":8.5,"v":8,"s":"s"},{"t":10,"v":22,"s":"s"},{"t":11.5,"v":38,"s":"s"},{"t":13,"v":43,"s":"s"},{"t":14,"v":38,"s":"s"},{"t":15,"v":33,"s":"s"},{"t":17,"v":31,"s":"s"},{"t":19,"v":27,"s":"s"},{"t":21,"v":20,"s":"s"},{"t":23,"v":17,"s":"s"},{"t":25,"v":14,"s":"s"},{"t":27,"v":12.5,"s":"s"},{"t":29,"v":12,"s":"s"},{"t":31,"v":12.5,"s":"s"},{"t":33,"v":11,"s":"s"},{"t":35,"v":9.5,"s":"s"},{"t":37,"v":9,"s":"s"},{"t":40,"v":10,"s":"s"},{"t":43,"v":9.5,"s":"s"},{"t":46,"v":10,"s":"s"},{"t":49,"v":9,"s":"s"},{"t":52,"v":9.5,"s":"s"},{"t":55,"v":8.5,"s":"s"},{"t":58,"v":9,"s":"s"},{"t":61,"v":8.5,"s":"s"},{"t":64,"v":9,"s":"s"},{"t":67,"v":7,"s":"s"},{"t":70,"v":8.5,"s":"s"},{"t":73,"v":8,"s":"s"},{"t":76,"v":9,"s":"s"},{"t":78,"v":10,"s":"s"},{"t":81,"v":9.5,"s":"s"},{"t":84,"v":8.5,"s":"s"},{"t":87,"v":9,"s":"s"},{"t":90,"v":9.5,"s":"s"},{"t":93,"v":8.5,"s":"s"},{"t":96,"v":9,"s":"s"},{"t":99,"v":8,"s":"s"},{"t":102,"v":8.5,"s":"s"},{"t":105,"v":9,"s":"s"},{"t":108,"v":8,"s":"s"},{"t":111,"v":9.5,"s":"s"},{"t":114,"v":8,"s":"s"},{"t":117,"v":8.5,"s":"s"},{"t":120,"v":8,"s":"s"},{"t":123,"v":9.5,"s":"s"},{"t":126,"v":8.5,"s":"s"},{"t":129,"v":8,"s":"s"},{"t":132,"v":8.5,"s":"s"},{"t":135,"v":7.5,"s":"s"},{"t":138,"v":8,"s":"s"},{"t":141,"v":7,"s":"s"},{"t":144,"v":7.5,"s":"s"},{"t":147,"v":6.5,"s":"s"},{"t":150,"v":7,"s":"s"},{"t":153,"v":7.5,"s":"s"},{"t":156,"v":7,"s":"s"},{"t":159,"v":6.5,"s":"s"},{"t":162,"v":7.5,"s":"s"},{"t":165,"v":7,"s":"s"},{"t":168,"v":8,"s":"s"},{"t":171,"v":7.5,"s":"s"},{"t":174,"v":7,"s":"s"},{"t":177,"v":7.5,"s":"s"},{"t":180,"v":7,"s":"s"},{"t":183,"v":6.5,"s":"s"},{"t":186,"v":7.5,"s":"s"},{"t":189,"v":6,"s":"s"},{"t":192,"v":7.5,"s":"s"},{"t":195,"v":6.5,"s":"s"},{"t":198,"v":7.5,"s":"s"},{"t":200,"v":9,"s":"s"}
    ]
  },
  "resolve": {"scale": {"color": "independent"}, "legend": {"color": "independent"}},
  "columns": 1,
  "align": "none",
  "spacing": 25,
  "concat": [
    {
      "spacing": 0,
      "resolve": {"scale": {"color": "independent"}, "legend": {"color": "independent"}},
      "hconcat": [
        {"width": 1, "height": 1, "data": {"values": [{}]}, "mark": {"type": "text", "text": ""}},
        {
          "spacing": 15,
          "resolve": {"scale": {"color": "independent"}, "legend": {"color": "independent"}},
          "hconcat": [
            {
              "width": 301, "height": 128,
              "title": {"text": "A", "anchor": "start", "frame": "bounds", "offset": -23.5, "baseline": "alphabetic", "fontSize": 13, "fontWeight": "bold", "color": "#000"},
              "data": {"name": "a"},
              "mark": {"type": "line", "strokeWidth": 0.9},
              "encoding": {
                "x": {"field": "t", "type": "quantitative", "scale": {"domain": [-37.65, 240.65], "nice": false, "zero": false}, "axis": {"values": [0, 50, 100, 150, 200], "title": "Time (ms)", "titlePadding": 5}},
                "y": {"field": "v", "type": "quantitative", "scale": {"domain": [-2.564, 1.264], "nice": false, "zero": false}, "axis": {"values": [-2, -1, 0, 1], "format": "d", "title": "Signal (au)", "titlePadding": 8}},
                "color": {"field": "s", "type": "nominal", "scale": {"domain": ["o", "s", "v"], "range": ["#000000", "#0000ff", "#ffa500"]}, "legend": {"orient": "none", "legendX": 167, "legendY": 66.6, "title": null, "labelExpr": "datum.label == 'o' ? 'Original circuit' : datum.label == 's' ? 'SM circuit' : 'In vivo'"}}
              }
            },
            {
              "width": 299, "height": 128,
              "title": {"text": "B", "anchor": "start", "frame": "bounds", "dx": -10, "offset": -23.5, "baseline": "alphabetic", "fontSize": 13, "fontWeight": "bold", "color": "#000"},
              "data": {"name": "b"},
              "mark": {"type": "line", "strokeWidth": 0.9},
              "encoding": {
                "x": {"field": "t", "type": "quantitative", "scale": {"domain": [-36.25, 211.25], "nice": false, "zero": false}, "axis": {"values": [0, 50, 100, 150, 200], "title": "Time (ms)", "titlePadding": 5}},
                "y": {"field": "v", "type": "quantitative", "scale": {"domain": [-3.22, 1.15], "nice": false, "zero": false}, "axis": {"values": [-3, -2, -1, 0, 1], "format": "d", "title": "Signal (au)", "titlePadding": 8}},
                "color": {"field": "s", "type": "nominal", "scale": {"domain": ["c", "s"], "range": ["#ffc0cb", "#0000ff"]}, "legend": {"orient": "none", "legendX": 135, "legendY": 82.4, "title": null, "labelExpr": "datum.label == 'c' ? 'Compressed spiking' : 'SM circuit'"}}
              }
            }
          ]
        }
      ]
    },
    {
      "columns": 1,
      "align": "none",
      "spacing": 18,
      "resolve": {"scale": {"color": "independent"}, "legend": {"color": "independent"}},
      "concat": [
        {
          "title": {"text": "C", "anchor": "start", "frame": "bounds", "dx": 68, "offset": -25, "baseline": "alphabetic", "fontSize": 13, "fontWeight": "bold", "color": "#000"},
          "spacing": 15,
          "resolve": {"scale": {"color": "independent"}, "legend": {"color": "independent"}},
          "hconcat": [
            {
              "width": 88, "height": 400,
              "data": {"values": [{}]},
              "mark": {"type": "text", "text": ""},
              "title": {"text": "Presynaptic", "orient": "left", "anchor": "middle", "offset": -101, "baseline": "bottom", "fontSize": 14.3}
            },
            {
              "columns": 3,
              "bounds": "flush",
              "spacing": {"row": 16, "column": 10},
              "resolve": {"scale": {"color": "independent"}, "legend": {"color": "independent"}},
              "concat": [
                {
                  "width": 158, "height": 194,
                  "view": {"stroke": "#444"},
                  "title": {"text": "Original Circuit", "offset": -14, "baseline": "alphabetic"},
                  "data": {"name": "hm"},
                  "transform": [{"filter": "datum.p == 'i'"}],
                  "mark": "rect",
                  "encoding": {
                    "x": {"field": "b", "type": "nominal", "sort": ["L2/3", "L4", "L5", "L6"], "axis": {"labels": false, "title": null}},
                    "y": {"field": "a", "type": "nominal", "sort": ["Thalamic", "L2/3 EXC", "L4 EXC", "L5 EXC", "L6 EXC"], "axis": {"title": "i", "titleAngle": 0, "titleX": -13, "titleY": -5, "titleAlign": "right", "titleBaseline": "alphabetic"}},
                    "color": {"field": "v", "type": "quantitative", "scale": {"domain": [-5, 0, 5], "range": ["#0000ff", "#ffffff", "#ff0000"], "interpolate": "rgb"}, "legend": null}
                  }
                },
                {
                  "width": 158, "height": 194,
                  "view": {"stroke": "#444"},
                  "title": {"text": "SM Circuit", "offset": -14, "baseline": "alphabetic"},
                  "data": {"name": "hm"},
                  "transform": [{"filter": "datum.p == 'iii'"}],
                  "mark": "rect",
                  "encoding": {
                    "x": {"field": "b", "type": "nominal", "sort": ["L2/3", "L4", "L5", "L6"], "axis": {"labels": false, "title": null}},
                    "y": {"field": "a", "type": "nominal", "sort": ["Thalamic", "L2/3 EXC", "L4 EXC", "L5 EXC", "L6 EXC"], "axis": {"labels": false, "title": "iii", "titleAngle": 0, "titleX": 2, "titleY": -5, "titleAlign": "right", "titleBaseline": "alphabetic"}},
                    "color": {"field": "v", "type": "quantitative", "scale": {"domain": [-5, 0, 5], "range": ["#0000ff", "#ffffff", "#ff0000"], "interpolate": "rgb"}, "legend": null}
                  }
                },
                {
                  "width": 158, "height": 194,
                  "view": {"stroke": "#444"},
                  "title": {"text": "Difference", "offset": -16, "baseline": "alphabetic"},
                  "data": {"name": "hm"},
                  "transform": [{"filter": "datum.p == 'v'"}],
                  "mark": "rect",
                  "encoding": {
                    "x": {"field": "b", "type": "nominal", "sort": ["L2/3", "L4", "L5", "L6"], "axis": {"labels": false, "title": null}},
                    "y": {"field": "a", "type": "nominal", "sort": ["Thalamic", "L2/3 EXC", "L4 EXC", "L5 EXC", "L6 EXC"], "axis": {"labels": false, "title": "v", "titleAngle": 0, "titleX": -2, "titleY": -7, "titleAlign": "right", "titleBaseline": "alphabetic"}},
                    "color": {"field": "v", "type": "quantitative", "scale": {"domain": [-5, 0, 5], "range": ["#0000ff", "#ffffff", "#ff0000"], "interpolate": "rgb"}, "legend": null}
                  }
                },
                {
                  "width": 158, "height": 158,
                  "view": {"stroke": "#444"},
                  "data": {"name": "hm"},
                  "transform": [{"filter": "datum.p == 'ii'"}],
                  "mark": "rect",
                  "encoding": {
                    "x": {"field": "b", "type": "nominal", "sort": ["L2/3", "L4", "L5", "L6"], "axis": {"labelAngle": 0, "title": null}},
                    "y": {"field": "a", "type": "nominal", "sort": ["L2/3 INH", "L4 INH", "L5 INH", "L6 INH"], "axis": {"title": "ii", "titleAngle": 0, "titleX": -13, "titleY": -6, "titleAlign": "right", "titleBaseline": "alphabetic"}},
                    "color": {"field": "v", "type": "quantitative", "scale": {"domain": [-5, 0, 5], "range": ["#0000ff", "#ffffff", "#ff0000"], "interpolate": "rgb"},
                      "legend": {"orient": "none", "legendX": -3, "legendY": 195.7, "direction": "horizontal", "gradientLength": 327, "gradientThickness": 16.7, "gradientStrokeColor": "#000", "gradientStrokeWidth": 0.8, "values": [-4, -2, 0, 2, 4], "format": "d", "labelFontSize": 10.5, "labelOffset": 8, "title": "Contributions to N1 width (ms)", "titleLimit": 500, "titleOrient": "bottom", "titleAnchor": "middle", "titleFontSize": 15, "titleFontWeight": "normal", "titleColor": "#111", "titlePadding": 5, "padding": 0, "strokeColor": "transparent", "fillColor": "transparent"}}
                  }
                },
                {
                  "width": 158, "height": 158,
                  "view": {"stroke": "#444"},
                  "data": {"name": "hm"},
                  "transform": [{"filter": "datum.p == 'iv'"}],
                  "mark": "rect",
                  "encoding": {
                    "x": {"field": "b", "type": "nominal", "sort": ["L2/3", "L4", "L5", "L6"], "axis": {"labelAngle": 0, "title": "Postsynaptic", "titleFontSize": 14.3, "titlePadding": 1}},
                    "y": {"field": "a", "type": "nominal", "sort": ["L2/3 INH", "L4 INH", "L5 INH", "L6 INH"], "axis": {"labels": false, "title": "iv", "titleAngle": 0, "titleX": 3, "titleY": -6, "titleAlign": "right", "titleBaseline": "alphabetic"}},
                    "color": {"field": "v", "type": "quantitative", "scale": {"domain": [-5, 0, 5], "range": ["#0000ff", "#ffffff", "#ff0000"], "interpolate": "rgb"}, "legend": null}
                  }
                },
                {
                  "width": 158, "height": 158,
                  "view": {"stroke": "#444"},
                  "data": {"name": "hm"},
                  "transform": [{"filter": "datum.p == 'vi'"}],
                  "mark": "rect",
                  "encoding": {
                    "x": {"field": "b", "type": "nominal", "sort": ["L2/3", "L4", "L5", "L6"], "axis": {"labelAngle": 0, "title": null}},
                    "y": {"field": "a", "type": "nominal", "sort": ["L2/3 INH", "L4 INH", "L5 INH", "L6 INH"], "axis": {"labels": false, "title": "vi", "titleAngle": 0, "titleX": -1, "titleY": -6, "titleAlign": "right", "titleBaseline": "alphabetic"}},
                    "color": {"field": "v", "type": "quantitative", "scale": {"domain": [-5, 0, 5], "range": ["#0000ff", "#ffffff", "#ff0000"], "interpolate": "rgb"},
                      "legend": {"orient": "none", "legendX": -5, "legendY": 195.7, "direction": "horizontal", "gradientLength": 164, "gradientThickness": 16.7, "gradientStrokeColor": "#000", "gradientStrokeWidth": 0.8, "values": [-4, 4], "format": "d", "labelFontSize": 10.5, "labelOffset": 8, "title": "Δx→y(ms)", "titleLimit": 300, "titleOrient": "bottom", "titleAnchor": "middle", "titleFontSize": 15, "titleFontWeight": "normal", "titleColor": "#111", "titlePadding": 5, "padding": 0, "strokeColor": "transparent", "fillColor": "transparent"}}
                  }
                }
              ]
            }
          ]
        },
        {
          "spacing": 0,
          "resolve": {"scale": {"color": "independent"}, "legend": {"color": "independent"}},
          "hconcat": [
            {"width": 1, "height": 1, "data": {"values": [{}]}, "mark": {"type": "text", "text": ""}},
            {
              "spacing": 22,
              "resolve": {"scale": {"color": "independent"}, "legend": {"color": "independent"}},
              "hconcat": [
                {
                  "title": {"text": "D", "anchor": "start", "frame": "bounds", "offset": -21, "baseline": "alphabetic", "fontSize": 13, "fontWeight": "bold", "color": "#000"},
                  "bounds": "flush",
                  "spacing": 12,
                  "resolve": {"scale": {"color": "independent"}, "legend": {"color": "independent"}},
                  "vconcat": [
                    {
                      "width": 279.5, "height": 152,
                      "title": {"text": "i", "anchor": "start", "frame": "group", "dx": -39, "offset": -40.7, "baseline": "alphabetic"},
                      "data": {"name": "di"},
                      "mark": {"type": "line", "strokeWidth": 0.9},
                      "encoding": {
                        "x": {"field": "t", "type": "quantitative", "scale": {"domain": [-25.4, 200], "nice": false, "zero": false}, "axis": null},
                        "y": {"field": "v", "type": "quantitative", "scale": {"domain": [-1.418, 0.435], "nice": false, "zero": false}, "axis": {"values": [-1, -0.5, 0], "format": ".1f", "title": "Signal (au)", "titlePadding": 8}},
                        "color": {"field": "s", "type": "nominal", "scale": {"domain": ["o", "s"], "range": ["#808080", "#008b8b"]}, "legend": {"orient": "none", "legendX": 136.5, "legendY": 107, "title": null, "symbolType": "M-0.5,0L0.5,0", "labelOffset": 0, "labelExpr": "datum.label == 'o' ? 'L5Inh->L5, original' : 'L5Inh->L5, SM'"}}
                      }
                    },
                    {
                      "width": 279.5, "height": 156.7,
                      "title": {"text": "ii", "anchor": "start", "frame": "group", "dx": -40, "offset": -13.8, "baseline": "alphabetic"},
                      "data": {"name": "dii"},
                      "mark": {"type": "line", "strokeWidth": 0.9},
                      "encoding": {
                        "x": {"field": "t", "type": "quantitative", "scale": {"domain": [-25.4, 200], "nice": false, "zero": false}, "axis": {"values": [0, 50, 100, 150, 200], "title": "Time (ms)", "titlePadding": 5}},
                        "y": {"field": "v", "type": "quantitative", "scale": {"domain": [-6, 88], "nice": false, "zero": false}, "axis": {"values": [0, 20, 40, 60, 80], "title": ["Spikes from", "L5 INH cells"], "titlePadding": 8}},
                        "color": {"field": "s", "type": "nominal", "scale": {"domain": ["o", "s"], "range": ["#000000", "#0000ff"]}, "legend": {"orient": "none", "legendX": 149.5, "legendY": 6, "title": null, "labelExpr": "datum.label == 'o' ? 'Orginal circuit' : 'SM circuit'"}}
                      }
                    }
                  ]
                },
                {
                  "title": {"text": "E", "anchor": "start", "frame": "bounds", "dx": -11, "offset": -23, "baseline": "alphabetic", "fontSize": 13, "fontWeight": "bold", "color": "#000"},
                  "bounds": "flush",
                  "spacing": 15,
                  "resolve": {"scale": {"color": "independent"}, "legend": {"color": "independent"}},
                  "vconcat": [
                    {
                      "width": 279, "height": 151,
                      "title": {"text": "i", "anchor": "start", "frame": "group", "dx": -55, "offset": -37.8, "baseline": "alphabetic"},
                      "data": {"name": "ei"},
                      "mark": {"type": "line", "strokeWidth": 0.9},
                      "encoding": {
                        "x": {"field": "t", "type": "quantitative", "scale": {"domain": [-36.25, 211.25], "nice": false, "zero": false}, "axis": null},
                        "y": {"field": "v", "type": "quantitative", "scale": {"domain": [-0.575, 0.231], "nice": false, "zero": false}, "axis": {"values": [-0.4, -0.2, 0, 0.2], "format": ".1f", "title": "Signal (au)", "titlePadding": 8}},
                        "color": {"field": "s", "type": "nominal", "scale": {"domain": ["o", "s"], "range": ["#808080", "#008b8b"]}, "legend": {"orient": "none", "legendX": 136.5, "legendY": 107, "title": null, "symbolType": "M-0.5,0L0.5,0", "labelOffset": 0, "labelExpr": "datum.label == 'o' ? 'L6Inh->L5, original' : 'L6Inh->L5, SM'"}}
                      }
                    },
                    {
                      "width": 279, "height": 153.3,
                      "title": {"text": "ii", "anchor": "start", "frame": "group", "dx": -55.5, "offset": -11.5, "baseline": "alphabetic"},
                      "data": {"name": "eii"},
                      "mark": {"type": "line", "strokeWidth": 0.9},
                      "encoding": {
                        "x": {"field": "t", "type": "quantitative", "scale": {"domain": [-25.3, 200], "nice": false, "zero": false}, "axis": {"values": [0, 50, 100, 150, 200], "title": "Time (ms)", "titlePadding": 5}},
                        "y": {"field": "v", "type": "quantitative", "scale": {"domain": [-3, 50.8], "nice": false, "zero": false}, "axis": {"values": [0, 10, 20, 30, 40, 50], "title": "Spikes from L6 INH cells", "titlePadding": 8}},
                        "color": {"field": "s", "type": "nominal", "scale": {"domain": ["o", "s"], "range": ["#000000", "#0000ff"]}, "legend": {"orient": "none", "legendX": 148.5, "legendY": 5, "title": null, "labelExpr": "datum.label == 'o' ? 'Orginal circuit' : 'SM circuit'"}}
                      }
                    }
                  ]
                }
              ]
            }
          ]
        }
      ]
    }
  ]
}
